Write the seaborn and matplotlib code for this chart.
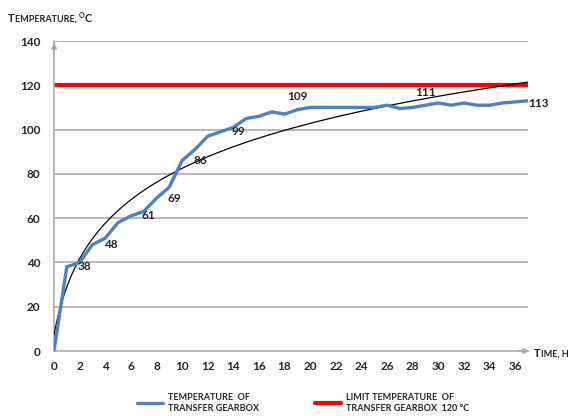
import numpy as np
import pandas as pd
import seaborn as sns
import matplotlib.pyplot as plt
from matplotlib.transforms import IdentityTransform
from matplotlib.patches import FancyArrowPatch

hours = list(range(0, 38))
temps = [0, 38, 40, 48, 51, 58, 61, 63, 69, 74, 86, 91, 97, 99, 101, 105, 106, 108, 107, 109,
         110, 110, 110, 110, 110, 110, 111, 109.5, 110, 111, 112, 111, 112, 111, 111, 112, 112.5, 113]
limit_temp = 120
label_hours = [1, 3, 6, 8, 10, 13, 19, 29, 37]
label_above = [19, 29]

df = pd.DataFrame({'hour': hours, 'temp': temps, 'limit': [limit_temp] * len(hours)})

# Excel style logarithmic trendline (categories counted from 1)
coef = np.polyfit(np.log(df['hour'] + 1), df['temp'], 1)
t_fine = np.linspace(0, hours[-1], 300)
trend = coef[0] * np.log(t_fine + 1) + coef[1]

sns.set_style('white')
plt.rcParams['font.family'] = ['Lato', 'DejaVu Sans']

W, H = 571, 416
fig = plt.figure(figsize=(W / 100, H / 100), dpi=100)
ax = fig.add_axes([54 / W, (H - 351) / H, (528 - 54) / W, (351 - 41) / H])

grid_c = '#a6a6a6'
for v in range(20, 141, 20):
    ax.axhline(v, color=grid_c, lw=1.1, zorder=0)

ax.plot(t_fine, trend, color='black', lw=0.9, zorder=3)
sns.lineplot(data=df, x='hour', y='limit', ax=ax, color='#ff0000', lw=3, zorder=2,
             label='LIMIT TEMPERATURE  OF\nTRANSFER GEARBOX  120 ºC')
sns.lineplot(data=df, x='hour', y='temp', ax=ax, color='#4f81bd', lw=2.4, zorder=4,
             label='TEMPERATURE  OF\nTRANSFER GEARBOX')

lab_kw = dict(textcoords='offset points', fontsize=8.5, fontweight='bold', color='#222222', zorder=5)
for h in label_hours:
    v = temps[h]
    if h in label_above:
        ax.annotate(f'{v:.0f}', (h, v), xytext=(0, 9.5), ha='center', va='center', **lab_kw)
    elif h == hours[-1]:
        ax.annotate(f'{v:.0f}', (h, v), xytext=(0, -2), ha='left', va='center',
                    annotation_clip=False, **lab_kw)
    else:
        ax.annotate(f'{v:.0f}', (h, v), xytext=(8, 0), ha='left', va='center', **lab_kw)

ax.set_xlim(0, 37)
ax.set_ylim(0, 140)
ax.set_xticks(range(0, 37, 2))
ax.set_xticks(range(0, 37), minor=True)
ax.set_yticks(range(0, 141, 20))
ax.tick_params(axis='x', which='both', direction='out', length=3.5, color=grid_c, width=0.8,
               labelsize=8.5, pad=4)
ax.tick_params(axis='y', length=0, labelsize=8.5, pad=10)
for lab in ax.get_xticklabels() + ax.get_yticklabels():
    lab.set_fontweight('bold')
ax.set_xlabel('')
ax.set_ylabel('')
for s in ['top', 'right']:
    ax.spines[s].set_visible(False)
for s in ['left', 'bottom']:
    ax.spines[s].set_color(grid_c)
    ax.spines[s].set_linewidth(1.1)

ax.legend_.remove()
handles, labels = ax.get_legend_handles_labels()
fig.legend(handles[::-1], labels[::-1], ncol=2, frameon=False, loc='center left',
           bbox_to_anchor=(137 / W, (H - 403) / H), prop={'size': 6.5, 'weight': 'bold'},
           handlelength=2.9, columnspacing=6.2, handletextpad=0.55, borderpad=0, borderaxespad=0)

# axis arrows
arrow = dict(arrowstyle='-|>', color=grid_c, lw=1.1, mutation_scale=8)
fig.add_artist(FancyArrowPatch((516, H - 351), (532, H - 351), transform=IdentityTransform(), **arrow))
fig.add_artist(FancyArrowPatch((54, H - 56), (54, H - 40), transform=IdentityTransform(), **arrow))

renderer = fig.canvas.get_renderer()


def smallcaps(x, y, parts):
    for s, size, dy in parts:
        t = fig.text(x, H - y + dy, s, fontsize=size, fontweight='bold', color='#222222',
                     transform=IdentityTransform(), va='baseline')
        x += t.get_window_extent(renderer).width


smallcaps(8, 22, [('T', 8, 0), ('EMPERATURE, ', 6.5, 0), ('O', 5, 4), ('C', 8, 0)])
smallcaps(534, 357, [('T', 8, 0), ('IME, H', 6.5, 0)])

fig.savefig('out.png', dpi=100)
